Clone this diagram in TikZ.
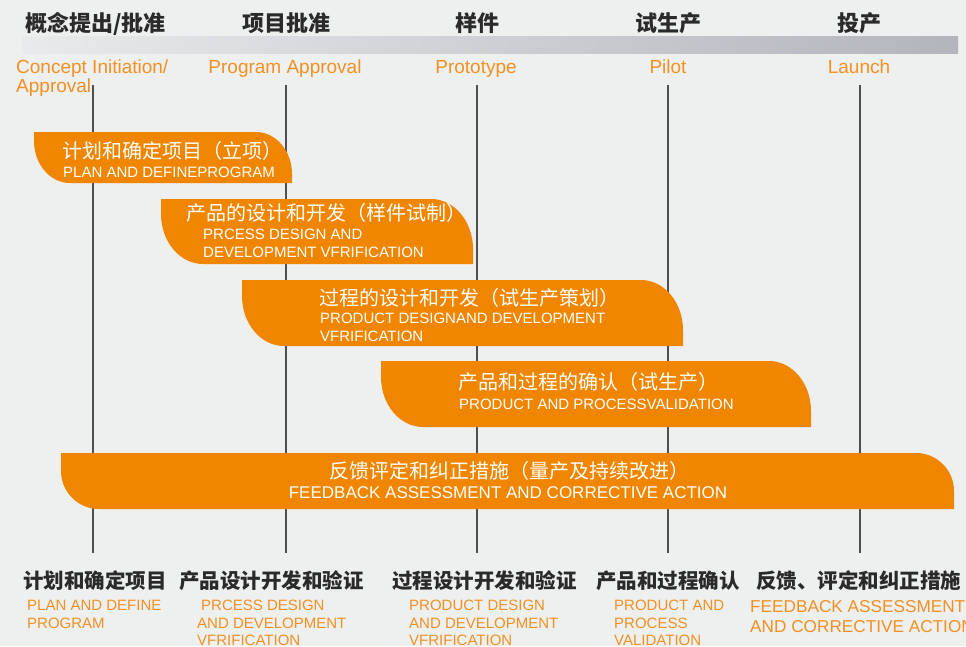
\documentclass[tikz,border=0pt]{standalone}
\usepackage{fontspec}
\setmainfont{Liberation Sans}
\newfontfamily\cjk{Noto Sans CJK SC}
\definecolor{bgc}{HTML}{EEEFEF}
\definecolor{barfill}{HTML}{F08600}
\definecolor{orangetext}{HTML}{F29022}
\definecolor{darktext}{HTML}{2A2A2A}
\definecolor{vlinec}{HTML}{4F4F4F}
\definecolor{greyL}{HTML}{E9EAEB}
\definecolor{greyR}{HTML}{B3B5BD}
\newcommand\orangebar[6]{%
  \fill[barfill] (#1,#2) -- ({#3-#5},#2) .. controls ({#3-0.448*#5},#2) and (#3,{#2+0.448*#6}) .. (#3,{#2+#6})
    -- (#3,#4) -- ({#1+#5},#4) .. controls ({#1+0.448*#5},#4) and (#1,{#4-0.448*#6}) .. (#1,{#4-#6}) -- cycle;}
\tikzset{
  head/.style={inner sep=0pt, text=darktext, font=\cjk\bfseries\fontsize{22}{22}\selectfont},
  phase/.style={inner sep=0pt, anchor=base, text=orangetext, font=\fontsize{19}{19}\selectfont},
  vline/.style={draw=vlinec, line width=1.8pt},
  barcn/.style={inner sep=0pt, anchor=west, text=white, font=\cjk\fontsize{20}{20}\selectfont},
  baren/.style={inner sep=0pt, anchor=base west, text=white, font=\fontsize{15}{15}\selectfont},
  botcn/.style={inner sep=0pt, text=darktext, font=\cjk\bfseries\fontsize{20.5}{20.5}\selectfont},
  boten/.style={inner sep=0pt, anchor=base west, text=orangetext, font=\fontsize{15}{15}\selectfont},
}
\begin{document}
\begin{tikzpicture}[x=1pt,y=-1pt]
\fill[bgc] (0,0) rectangle (966,646);
\useasboundingbox (0,0) rectangle (966,646);
% grey band
\shade[left color=greyL, right color=greyR] (22,36) rectangle (958,53);
% top headers
\node[head] (h1) at (95.5,23.5) {概念提出/批准};
\node[head] (h2) at (286,23.5) {项目批准};
\node[head] (h3) at (477,23.5) {样件};
\node[head] (h4) at (668.5,23.5) {试生产};
\node[head] (h5) at (859.5,23.5) {投产};
% phase labels
\node[phase, anchor=base west] (p1a) at (16,73) {Concept Initiation/};
\node[phase, anchor=base west] (p1b) at (16,92) {Approval};
\node[phase] (p2) at (285,73) {Program Approval};
\node[phase] (p3) at (476,73) {Prototype};
\node[phase] (p4) at (668,73) {Pilot};
\node[phase] (p5) at (859,73) {Launch};
% vertical lines
\foreach \i/\x in {1/93,2/286,3/477,4/668,5/860}{
  \coordinate (t\i) at (\x,85);
  \coordinate (b\i) at (\x,553);
  \draw[vline] (t\i) -- (b\i);
}
% bars
\orangebar{34}{132}{292}{183}{36}{42}
\orangebar{161}{199}{473}{264}{42}{50}
\orangebar{242}{280}{683}{346}{42}{50}
\orangebar{381}{361}{811}{427}{42}{50}
\orangebar{61}{453}{954}{509}{38}{38}
% bar texts
\node[barcn] (c1) at (62,151) {计划和确定项目（立项）};
\node[baren] (e1) at (63,177) {PLAN AND DEFINEPROGRAM};
\node[barcn] (c2) at (186,213) {产品的设计和开发（样件试制）};
\node[baren] (e2a) at (203,239) {PRCESS DESIGN AND};
\node[baren] (e2b) at (203,257) {DEVELOPMENT VFRIFICATION};
\node[barcn] (c3) at (319,297.5) {过程的设计和开发（试生产策划）};
\node[baren] (e3a) at (320,323) {PRODUCT DESIGNAND DEVELOPMENT};
\node[baren] (e3b) at (320,341) {VFRIFICATION};
\node[barcn] (c4) at (458,382) {产品和过程的确认（试生产）};
\node[baren] (e4) at (459,409) {PRODUCT AND PROCESSVALIDATION};
\node[barcn, anchor=center] (c5) at (509,471) {反馈评定和纠正措施（量产及持续改进）};
\node[baren, anchor=base, font=\fontsize{17}{17}\selectfont] (e5) at (508,498) {FEEDBACK ASSESSMENT AND CORRECTIVE ACTION};
% bottom labels
\node[botcn] (s1) at (95,581) {计划和确定项目};
\node[botcn] (s2) at (271.5,581) {产品设计开发和验证};
\node[botcn] (s3) at (484.5,581) {过程设计开发和验证};
\node[botcn] (s4) at (668,581) {产品和过程确认};
\node[botcn] (s5) at (858.5,581) {反馈、评定和纠正措施};
\node[boten] (d1a) at (27,610) {PLAN AND DEFINE};
\node[boten] (d1b) at (27,628) {PROGRAM};
\node[boten] (d2a) at (201,610) {PRCESS DESIGN};
\node[boten] (d2b) at (197,628) {AND DEVELOPMENT};
\node[boten] (d2c) at (197,645) {VFRIFICATION};
\node[boten] (d3a) at (409,610) {PRODUCT DESIGN};
\node[boten] (d3b) at (409,628) {AND DEVELOPMENT};
\node[boten] (d3c) at (409,645) {VFRIFICATION};
\node[boten] (d4a) at (614,610) {PRODUCT AND};
\node[boten] (d4b) at (614,628) {PROCESS};
\node[boten] (d4c) at (614,645) {VALIDATION};
\node[boten, font=\fontsize{17.2}{17.2}\selectfont] (d5a) at (750,612) {FEEDBACK ASSESSMENT};
\node[boten, font=\fontsize{17.2}{17.2}\selectfont] (d5b) at (750,632) {AND CORRECTIVE ACTION};
\end{tikzpicture}
\end{document}
